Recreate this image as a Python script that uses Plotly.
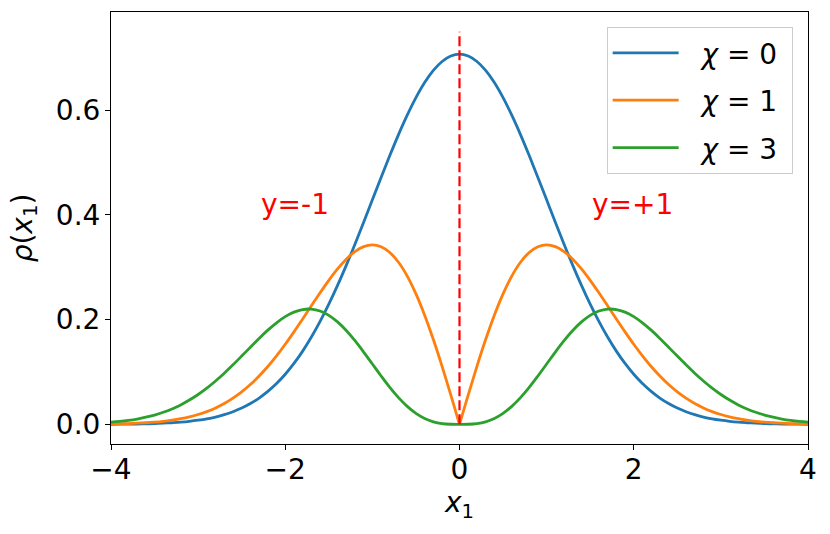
import plotly.graph_objects as go

# x grid, step 0.1
x1 = [-4.0, -3.9, -3.8, -3.7, -3.6, -3.5, -3.4, -3.3, -3.2, -3.1,
      -3.0, -2.9, -2.8, -2.7, -2.6, -2.5, -2.4, -2.3, -2.2, -2.1,
      -2.0, -1.9, -1.8, -1.7, -1.6, -1.5, -1.4, -1.3, -1.2, -1.1,
      -1.0, -0.9, -0.8, -0.7, -0.6, -0.5, -0.4, -0.3, -0.2, -0.1,
      0.0,
      0.1, 0.2, 0.3, 0.4, 0.5, 0.6, 0.7, 0.8, 0.9, 1.0,
      1.1, 1.2, 1.3, 1.4, 1.5, 1.6, 1.7, 1.8, 1.9, 2.0,
      2.1, 2.2, 2.3, 2.4, 2.5, 2.6, 2.7, 2.8, 2.9, 3.0,
      3.1, 3.2, 3.3, 3.4, 3.5, 3.6, 3.7, 3.8, 3.9, 4.0]

rho_chi0 = [0.0002, 0.0004, 0.0005, 0.0007, 0.0011, 0.0015, 0.0022, 0.0031, 0.0042, 0.0058,
            0.0079, 0.0105, 0.0140, 0.0185, 0.0241, 0.0311, 0.0397, 0.0502, 0.0629, 0.0779,
            0.0957, 0.1163, 0.1399, 0.1667, 0.1966, 0.2295, 0.2653, 0.3037, 0.3441, 0.3861,
            0.4288, 0.4716, 0.5134, 0.5534, 0.5905, 0.6239, 0.6527, 0.6759, 0.6930, 0.7035,
            0.7070,
            0.7035, 0.6930, 0.6759, 0.6527, 0.6239, 0.5905, 0.5534, 0.5134, 0.4716, 0.4288,
            0.3861, 0.3441, 0.3037, 0.2653, 0.2295, 0.1966, 0.1667, 0.1399, 0.1163, 0.0957,
            0.0779, 0.0629, 0.0502, 0.0397, 0.0311, 0.0241, 0.0185, 0.0140, 0.0105, 0.0079,
            0.0058, 0.0042, 0.0031, 0.0022, 0.0015, 0.0011, 0.0007, 0.0005, 0.0004, 0.0002]

rho_chi1 = [0.0008, 0.0011, 0.0016, 0.0022, 0.0031, 0.0043, 0.0059, 0.0081, 0.0108, 0.0143,
            0.0188, 0.0244, 0.0314, 0.0398, 0.0500, 0.0621, 0.0761, 0.0923, 0.1105, 0.1308,
            0.1529, 0.1766, 0.2013, 0.2264, 0.2513, 0.2751, 0.2969, 0.3155, 0.3300, 0.3394,
            0.3427, 0.3392, 0.3282, 0.3096, 0.2832, 0.2493, 0.2086, 0.1620, 0.1108, 0.0562,
            0.0000,
            0.0562, 0.1108, 0.1620, 0.2086, 0.2493, 0.2832, 0.3096, 0.3282, 0.3392, 0.3427,
            0.3394, 0.3300, 0.3155, 0.2969, 0.2751, 0.2513, 0.2264, 0.2013, 0.1766, 0.1529,
            0.1308, 0.1105, 0.0923, 0.0761, 0.0621, 0.0500, 0.0398, 0.0314, 0.0244, 0.0188,
            0.0143, 0.0108, 0.0081, 0.0059, 0.0043, 0.0031, 0.0022, 0.0016, 0.0011, 0.0008]

rho_chi3 = [0.0041, 0.0056, 0.0076, 0.0102, 0.0136, 0.0178, 0.0231, 0.0295, 0.0372, 0.0464,
            0.0570, 0.0691, 0.0828, 0.0977, 0.1137, 0.1304, 0.1474, 0.1642, 0.1799, 0.1940,
            0.2057, 0.2143, 0.2193, 0.2201, 0.2164, 0.2082, 0.1957, 0.1793, 0.1598, 0.1381,
            0.1152, 0.0924, 0.0706, 0.0510, 0.0343, 0.0210, 0.0112, 0.0049, 0.0015, 0.0002,
            0.0000,
            0.0002, 0.0015, 0.0049, 0.0112, 0.0210, 0.0343, 0.0510, 0.0706, 0.0924, 0.1152,
            0.1381, 0.1598, 0.1793, 0.1957, 0.2082, 0.2164, 0.2201, 0.2193, 0.2143, 0.2057,
            0.1940, 0.1799, 0.1642, 0.1474, 0.1304, 0.1137, 0.0977, 0.0828, 0.0691, 0.0570,
            0.0464, 0.0372, 0.0295, 0.0231, 0.0178, 0.0136, 0.0102, 0.0076, 0.0056, 0.0041]

vline_x = [0, 0]
vline_y = [0, 0.75]

xticks = [-4, -2, 0, 2, 4]
xticklabels = ["\u22124", "\u22122", "0", "2", "4"]
yticks = [0.0, 0.2, 0.4, 0.6]
yticklabels = ["0.0", "0.2", "0.4", "0.6"]

FONT = "DejaVu Sans"
LW = 2.8
mid = x1.index(0.0)
pad = "&nbsp;&nbsp;"
tail = "&nbsp;"

fig = go.Figure()

fig.add_trace(go.Scatter(x=x1, y=rho_chi0, mode="lines", name=pad + "<i>χ</i> = 0" + tail,
                         legendgroup="c0",
                         line=dict(color="#1f77b4", width=LW, shape="spline")))
# chi=1 has a cusp at 0, so the two halves are drawn separately
fig.add_trace(go.Scatter(x=x1[:mid + 1], y=rho_chi1[:mid + 1], mode="lines", name=pad + "<i>χ</i> = 1" + tail,
                         legendgroup="c1",
                         line=dict(color="#ff7f0e", width=LW, shape="spline")))
fig.add_trace(go.Scatter(x=x1[mid:], y=rho_chi1[mid:], mode="lines", showlegend=False,
                         legendgroup="c1",
                         line=dict(color="#ff7f0e", width=LW, shape="spline")))
fig.add_trace(go.Scatter(x=x1, y=rho_chi3, mode="lines", name=pad + "<i>χ</i> = 3" + tail,
                         legendgroup="c3",
                         line=dict(color="#2ca02c", width=LW, shape="spline")))
fig.add_trace(go.Scatter(x=vline_x, y=vline_y, mode="lines", showlegend=False,
                         line=dict(color="red", width=2.2, dash="10px,4px")))

fig.add_annotation(x=-2.3, y=0.4, text="y=-1", showarrow=False, xanchor="left", yanchor="bottom",
                   yshift=-8, font=dict(color="red", size=28, family=FONT))
fig.add_annotation(x=1.5, y=0.4, text="y=+1", showarrow=False, xanchor="left", yanchor="bottom",
                   yshift=-8, font=dict(color="red", size=28, family=FONT))

axis_common = dict(showline=True, linecolor="black", linewidth=1.1, mirror=True,
                   ticks="outside", ticklen=5, tickwidth=1.1, tickcolor="black",
                   showgrid=False, zeroline=False,
                   tickfont=dict(size=28, family=FONT, color="black"))

fig.update_xaxes(range=[-4, 4], tickvals=xticks, ticktext=xticklabels, ticklabelstandoff=-5,
                 automargin=True,
                 title=dict(text="<i>x</i><sub>1</sub>", font=dict(size=28, family=FONT, color="black"),
                            standoff=4),
                 **axis_common)
fig.update_yaxes(range=[-0.0375, 0.7875], tickvals=yticks, ticktext=yticklabels, ticklabelstandoff=-1,
                 automargin=False,
                 title=dict(text="<i>ρ</i>(<i>x</i><sub>1</sub>)", font=dict(size=28, family=FONT, color="black")),
                 **axis_common)

fig.update_layout(
    width=830, height=534,
    margin=dict(l=111, r=22, t=12, b=90),
    plot_bgcolor="white", paper_bgcolor="white",
    font=dict(family=FONT, size=28, color="black"),
    legend=dict(x=0.978, y=0.965, xanchor="right", yanchor="top",
                bgcolor="white", bordercolor="#cccccc", borderwidth=1,
                tracegroupgap=8, itemwidth=66,
                font=dict(size=28, family=FONT, color="black")),
)

# page body has a default 8px margin; remove it so the figure sits at the corner
fig.write_html("out.html", config={"displayModeBar": False},
               post_script="document.body.style.margin='0';")
